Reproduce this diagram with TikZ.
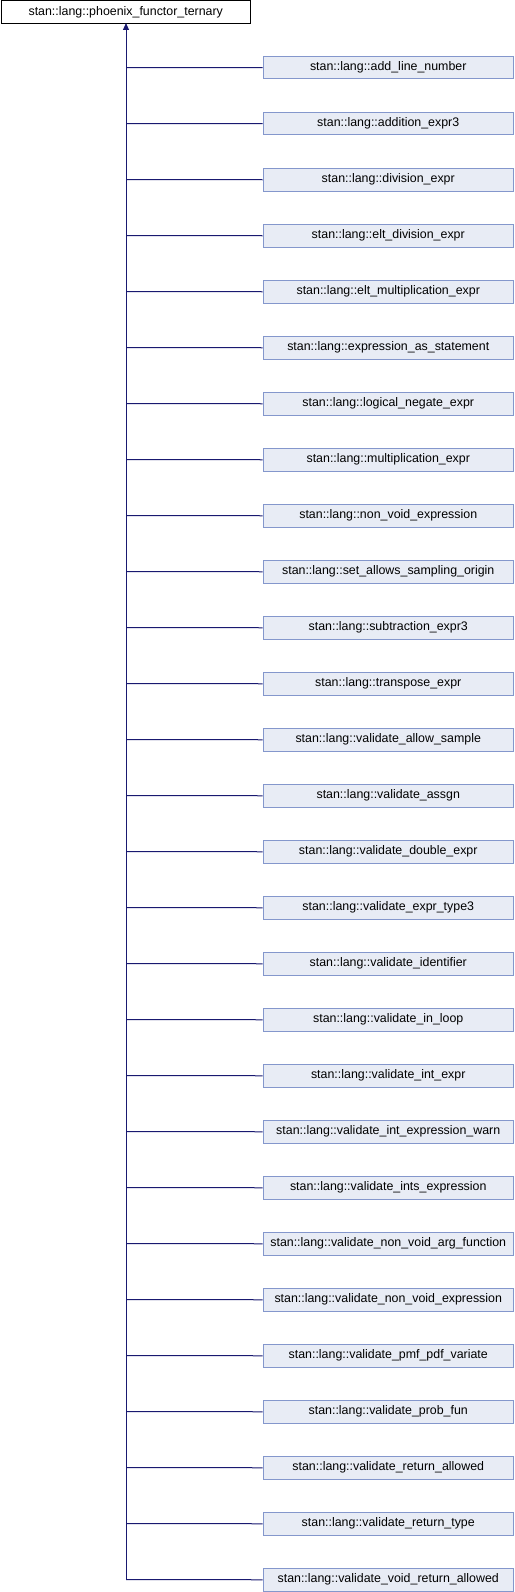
\documentclass[tikz,border=0pt]{standalone}
\usepackage{fontspec}
\setmainfont{Liberation Sans}
\usetikzlibrary{arrows.meta}
\definecolor{edgeblue}{RGB}{25,25,112}
\definecolor{boxfill}{RGB}{232,236,245}
\definecolor{boxdraw}{RGB}{132,151,204}
\tikzset{
  base/.style={draw=black, fill=white, line width=1pt, minimum width=249.5pt, minimum height=22.5pt, inner sep=0pt, font=\fontsize{12.4}{14}\selectfont, anchor=north west},
  child/.style={draw=boxdraw, fill=boxfill, line width=1pt, minimum width=250.5pt, minimum height=22.5pt, inner sep=0pt, font=\fontsize{12.4}{14}\selectfont, anchor=north west},
  link/.style={draw=edgeblue, line width=1pt},
}
\begin{document}
\begin{tikzpicture}[x=1pt,y=-1pt]
\useasboundingbox (0,0) rectangle (514,1592);
\node[base] (top) at (0.5,0.5) {stan::lang::phoenix\_functor\_ternary};
\coordinate (trunk) at (126,23);
\foreach \i/\t in {1/add\_line\_number,2/addition\_expr3,3/division\_expr,4/elt\_division\_expr,5/elt\_multiplication\_expr,6/expression\_as\_statement,7/logical\_negate\_expr,8/multiplication\_expr,9/non\_void\_expression,10/set\_allows\_sampling\_origin,11/subtraction\_expr3,12/transpose\_expr,13/validate\_allow\_sample,14/validate\_assgn,15/validate\_double\_expr,16/validate\_expr\_type3,17/validate\_identifier,18/validate\_in\_loop,19/validate\_int\_expr,20/validate\_int\_expression\_warn,21/validate\_ints\_expression,22/validate\_non\_void\_arg\_function,23/validate\_non\_void\_expression,24/validate\_pmf\_pdf\_variate,25/validate\_prob\_fun,26/validate\_return\_allowed,27/validate\_return\_type,28/validate\_void\_return\_allowed}{
  \node[child] (c\i) at (262.5,{56+56*(\i-1)}) {stan::lang::\t};
  \coordinate (j\i) at (126,{67.5+56*(\i-1)});
  \draw[link] (j\i) -- (c\i.west);
}
\draw[link, {Triangle[length=7pt,width=6pt]}-] (trunk) -- (j28);
\end{tikzpicture}
\end{document}
